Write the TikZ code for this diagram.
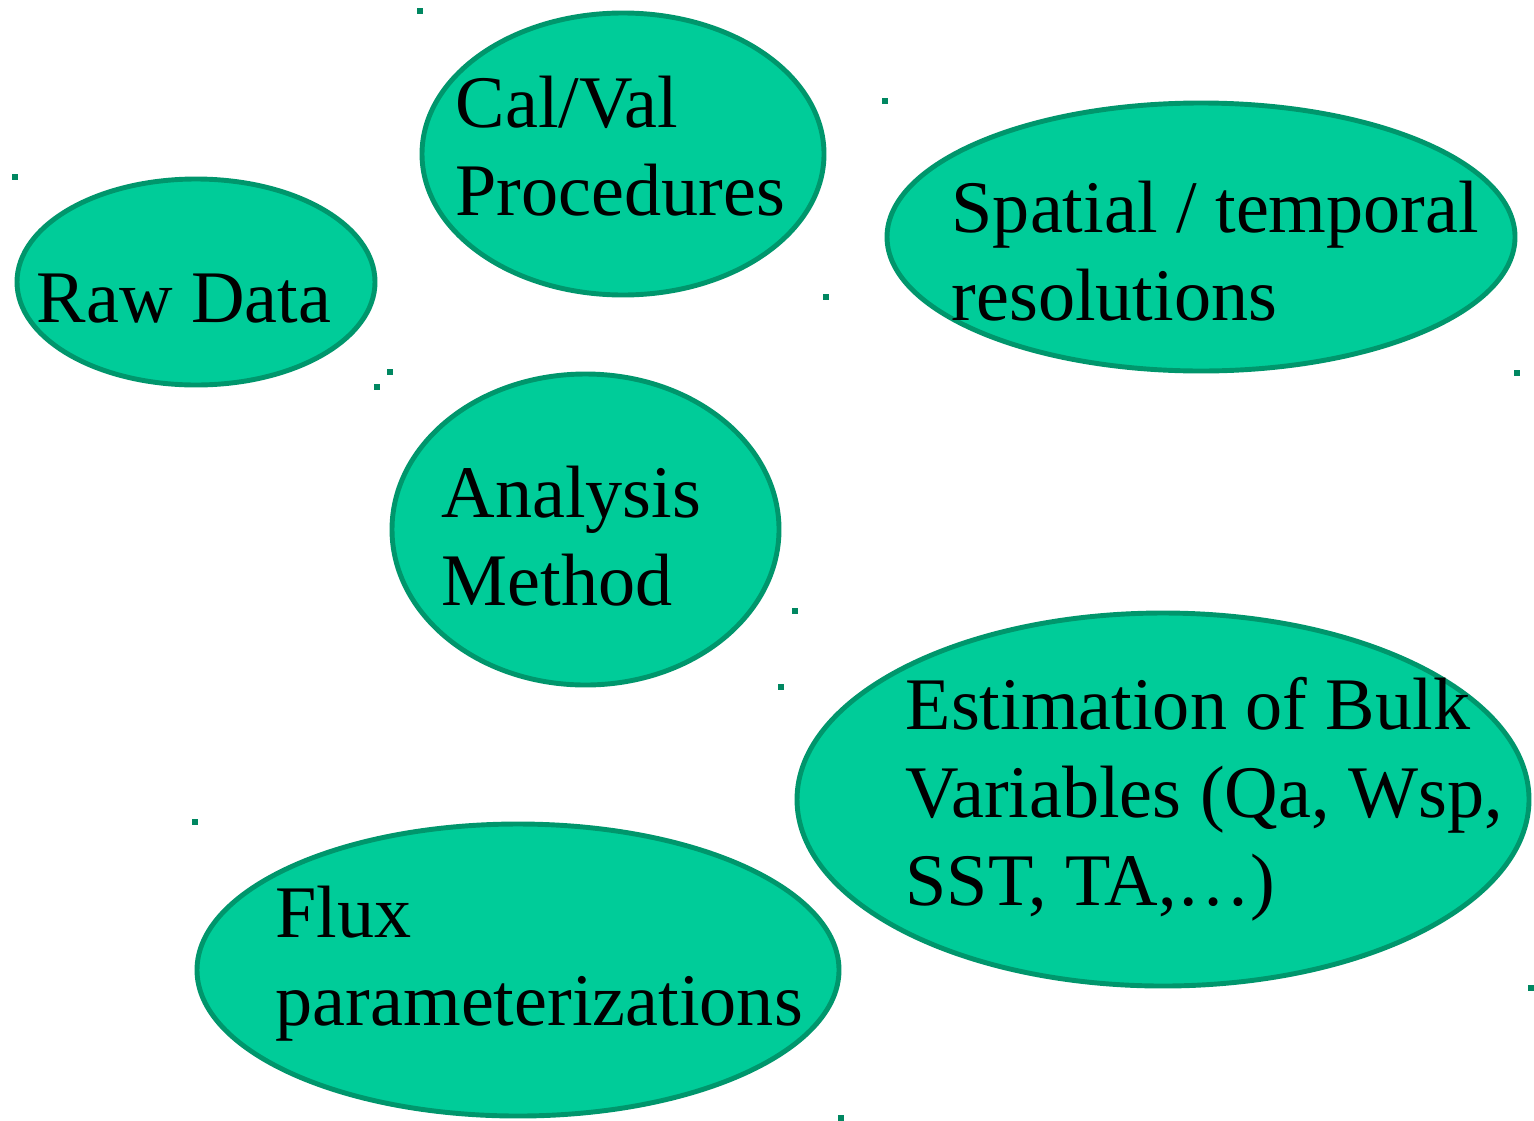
\documentclass[tikz,border=0pt]{standalone}
\usepackage{fontspec}
\setmainfont{Liberation Serif}
\usetikzlibrary{shapes.geometric}
\definecolor{blobfill}{RGB}{0,204,153}
\definecolor{blobline}{RGB}{0,150,108}

\begin{document}
\begin{tikzpicture}[
      blob/.style={ellipse, draw=blobline, line width=1.4pt, fill=blobfill, inner sep=0pt},
      lbl/.style={align=left, inner sep=0pt, anchor=base west,
        font=\fontsize{21.1}{25.0}\selectfont},
      cornerdot/.style={rectangle, fill=blobline!90!black, minimum size=0.06cm, inner sep=0pt}
    ]
    \useasboundingbox (0,0) rectangle (15.34,-11.20);

    % Ellipses
    \node[blob, minimum width=3.58cm, minimum height=2.06cm] (raw) at (1.96,-2.82) {};
    \node[blob, minimum width=4.02cm, minimum height=2.82cm] (calval) at (6.23,-1.54) {};
    \node[blob, minimum width=6.28cm, minimum height=2.68cm] (spatial) at (12.01,-2.37) {};
    \node[blob, minimum width=3.87cm, minimum height=3.11cm] (analysis) at (5.855,-5.295) {};
    \node[blob, minimum width=7.32cm, minimum height=3.73cm] (bulk) at (11.63,-7.995) {};
    \node[blob, minimum width=6.42cm, minimum height=2.92cm] (flux) at (5.18,-9.70) {};

    % Labels (anchored at the baseline of the last line)
    \node[lbl] (rawtxt) at (0.36,-3.22) {Raw Data};
    \node[lbl] (calvaltxt) at (4.55,-2.15) {Cal/Val\\Procedures};
    \node[lbl] (spatialtxt) at (9.51,-3.20) {Spatial / temporal\\resolutions};
    \node[lbl] (analysistxt) at (4.41,-6.05) {Analysis\\Method};
    \node[lbl] (bulktxt) at (9.05,-9.05) {Estimation of Bulk\\Variables (Qa, Wsp,\\SST, TA,\ldots)};
    \node[lbl] (fluxtxt) at (2.75,-10.25) {Flux\\parameterizations};

    % Corner markers
    \foreach \n in {raw,calval,spatial,analysis,bulk,flux} {
      \node[cornerdot] (\n-tl) at (\n.north -| \n.west) {};
      \node[cornerdot] (\n-br) at (\n.south -| \n.east) {};
    }
  \end{tikzpicture}
\end{document}
